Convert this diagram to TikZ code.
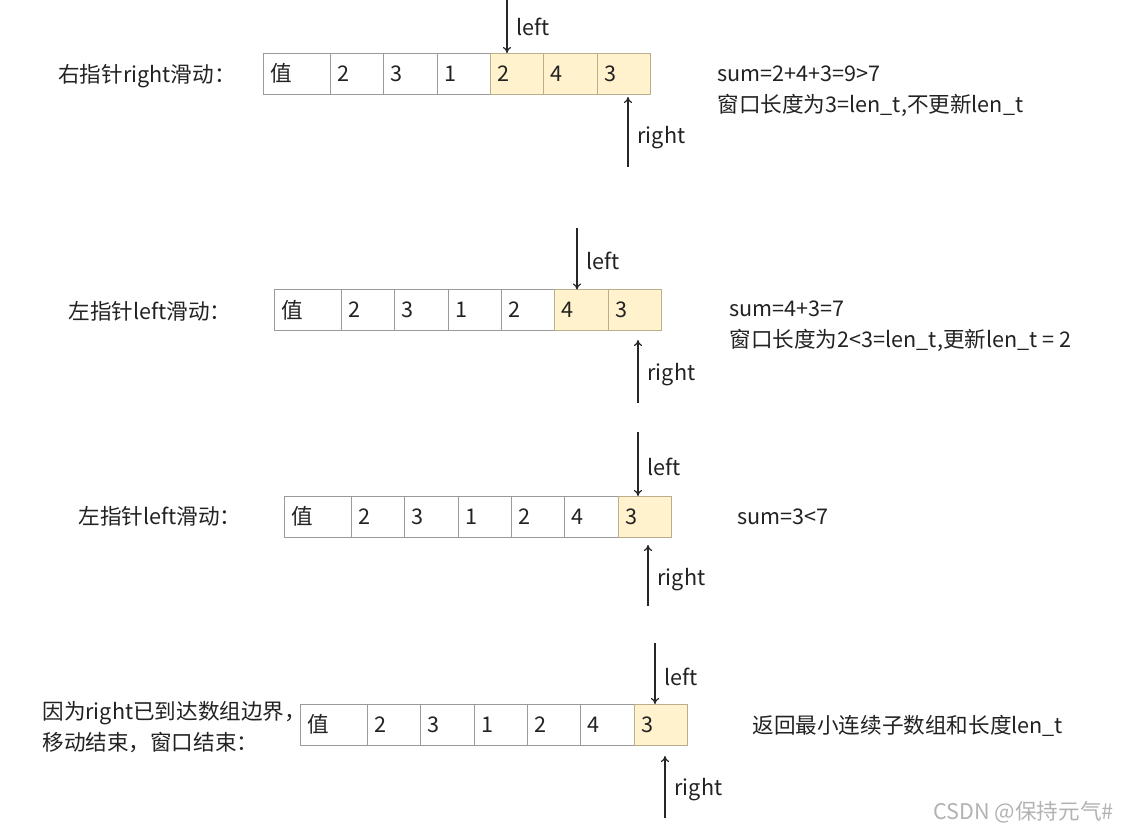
\documentclass[tikz,border=0pt]{standalone}
\usepackage{fontspec}
\setmainfont{Noto Sans CJK SC}
\usetikzlibrary{positioning, arrows.meta}
\definecolor{cellline}{HTML}{9A9A9A}
\definecolor{winfill}{HTML}{FFF2CC}
\definecolor{winline}{HTML}{BCAE8C}
\definecolor{txtgray}{HTML}{222222}
\tikzset{
	cellnode/.style={
			rectangle,
			draw=cellline,
			fill=white,
			line width=0.5pt,
			minimum height=20.5pt,
			minimum width=26.7pt,
			text width=19.7pt,
			inner xsep=3.5pt,
			inner ysep=0pt,
			outer sep=0pt,
			align=left,
			text=txtgray
		},
	headnode/.style={
			cellnode,
			minimum width=33.6pt,
			text width=26.6pt
		},
	winnode/.style={
			cellnode,
			draw=winline,
			fill=winfill
		},
	ptrarrow/.style={
			-{To[length=3pt,width=4pt]},
			line width=0.6pt,
			draw=black!85
		},
	ptrlabel/.style={
			right,
			text=txtgray,
			inner sep=4.5pt
		},
	sidetext/.style={
			anchor=west,
			align=left,
			text=txtgray,
			inner sep=0pt
		}
}

\begin{document}
\begin{tikzpicture}[x=0.5pt, y=-0.5pt, font=\fontsize{10.8}{15.5}\selectfont]
\useasboundingbox (0,0) rectangle (1121,832);

% row 1
\node[headnode, anchor=west] (a0) at (263,73.5) {值};
\node[cellnode, right=0pt of a0] (a1) {2};
\node[cellnode, right=0pt of a1] (a2) {3};
\node[cellnode, right=0pt of a2] (a3) {1};
\node[winnode, right=0pt of a3] (a4) {2};
\node[winnode, right=0pt of a4] (a5) {4};
\node[winnode, right=0pt of a5] (a6) {3};

\node[sidetext] (atitle) at (58,76) {右指针right滑动：};
\node[sidetext] (anote) at (717,91.5) {sum=2+4+3=9>7\\窗口长度为3=len\_t,不更新len\_t};

\coordinate (al) at (507,0);
\coordinate (ar1) at (628,167);
\coordinate (ar2) at (628,97);
\draw[ptrarrow] (al) -- (al |- a4.north) node[ptrlabel, pos=0.5] {left};
\draw[ptrarrow] (ar1) -- (ar2) node[ptrlabel, pos=0.42] {right};

% row 2
\node[headnode, anchor=west] (b0) at (274,310) {值};
\node[cellnode, right=0pt of b0] (b1) {2};
\node[cellnode, right=0pt of b1] (b2) {3};
\node[cellnode, right=0pt of b2] (b3) {1};
\node[cellnode, right=0pt of b3] (b4) {2};
\node[winnode, right=0pt of b4] (b5) {4};
\node[winnode, right=0pt of b5] (b6) {3};

\node[sidetext] (btitle) at (68,311) {左指针left滑动：};
\node[sidetext] (bnote) at (729,326.5) {sum=4+3=7\\窗口长度为2<3=len\_t,更新len\_t = 2};

\coordinate (bl) at (577,228);
\coordinate (br1) at (638,403);
\coordinate (br2) at (638,340);
\draw[ptrarrow] (bl) -- (bl |- b5.north) node[ptrlabel, pos=0.54] {left};
\draw[ptrarrow] (br1) -- (br2) node[ptrlabel, pos=0.45] {right};

% row 3
\node[headnode, anchor=west] (c0) at (284,516.5) {值};
\node[cellnode, right=0pt of c0] (c1) {2};
\node[cellnode, right=0pt of c1] (c2) {3};
\node[cellnode, right=0pt of c2] (c3) {1};
\node[cellnode, right=0pt of c3] (c4) {2};
\node[cellnode, right=0pt of c4] (c5) {4};
\node[winnode, right=0pt of c5] (c6) {3};

\node[sidetext] (ctitle) at (78,516) {左指针left滑动：};
\node[sidetext] (cnote) at (737,517) {sum=3<7};

\coordinate (cl) at (638,432);
\coordinate (cr1) at (648,606);
\coordinate (cr2) at (648,545);
\draw[ptrarrow] (cl) -- (cl |- c6.north) node[ptrlabel, pos=0.55] {left};
\draw[ptrarrow] (cr1) -- (cr2) node[ptrlabel, pos=0.44] {right};

% row 4
\node[headnode, anchor=west] (d0) at (300,724.5) {值};
\node[cellnode, right=0pt of d0] (d1) {2};
\node[cellnode, right=0pt of d1] (d2) {3};
\node[cellnode, right=0pt of d2] (d3) {1};
\node[cellnode, right=0pt of d3] (d4) {2};
\node[cellnode, right=0pt of d4] (d5) {4};
\node[winnode, right=0pt of d5] (d6) {3};

\node[sidetext] (dtitle) at (42,727.5) {因为right已到达数组边界，\\移动结束，窗口结束：};
\node[sidetext] (dnote) at (752,726) {返回最小连续子数组和长度len\_t};

\coordinate (dl) at (655,643);
\coordinate (dr1) at (665,818);
\coordinate (dr2) at (665,756);
\draw[ptrarrow] (dl) -- (dl |- d6.north) node[ptrlabel, pos=0.56] {left};
\draw[ptrarrow] (dr1) -- (dr2) node[ptrlabel, pos=0.46] {right};

% watermark
\node[sidetext, text=black!30] (wmark) at (933,812) {CSDN @保持元气\#};

\end{tikzpicture}
\end{document}
